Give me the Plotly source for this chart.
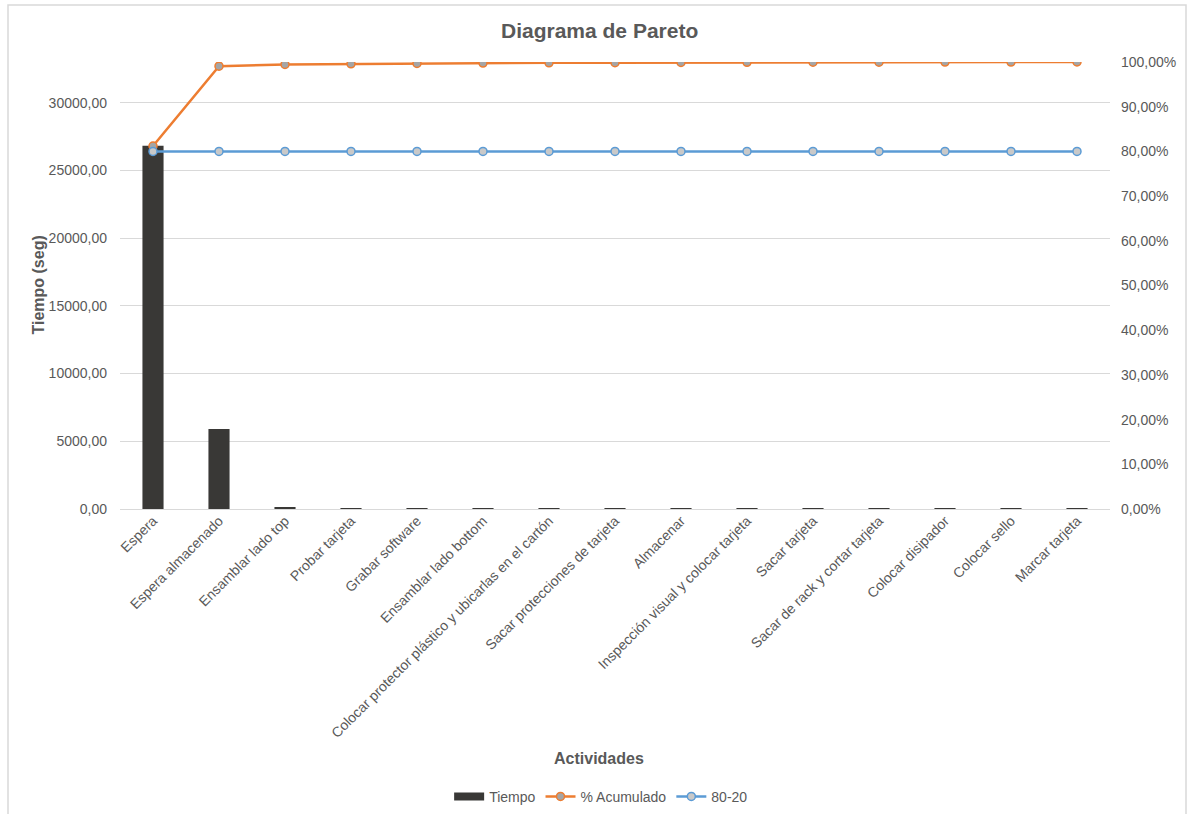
import plotly.graph_objects as go

# Activities and their time in seconds (sorted descending)
actividades = [
    "Espera",
    "Espera almacenado",
    "Ensamblar lado top",
    "Probar tarjeta",
    "Grabar software",
    "Ensamblar lado bottom",
    "Colocar protector plástico y ubicarlas en el cartón",
    "Sacar protecciones de tarjeta",
    "Almacenar",
    "Inspección visual y colocar tarjeta",
    "Sacar tarjeta",
    "Sacar de rack y cortar tarjeta",
    "Colocar disipador",
    "Colocar sello",
    "Marcar tarjeta",
]
tiempo = [26820, 5900, 130, 40, 30, 25, 20, 15, 12, 10, 8, 6, 5, 4, 3]
umbral = [0.80] * len(actividades)

total = sum(tiempo)
acumulado = []
running = 0
for t in tiempo:
    running += t
    acumulado.append(running / total)

GRAY_TXT = "#595959"
BAR_COLOR = "#393836"
FONT = "Liberation Sans, Arial, sans-serif"

fig = go.Figure()

fig.add_trace(go.Bar(
    x=actividades, y=tiempo, name="Tiempo",
    marker=dict(color=BAR_COLOR, line=dict(width=0)),
    yaxis="y", showlegend=False,
))
# legend key for the bars drawn as a wide block
fig.add_trace(go.Scatter(
    x=[None], y=[None], name="Tiempo", mode="lines",
    line=dict(color=BAR_COLOR, width=8),
))
fig.add_trace(go.Scatter(
    x=actividades, y=acumulado, name="% Acumulado",
    mode="lines+markers", yaxis="y2",
    line=dict(color="#ED7D31", width=2.5),
    marker=dict(size=8, color="#A5A5A5", line=dict(color="#ED7D31", width=1.5)),
))
fig.add_trace(go.Scatter(
    x=actividades, y=umbral, name="80-20",
    mode="lines+markers", yaxis="y2",
    line=dict(color="#5B9BD5", width=2.5),
    marker=dict(size=8, color="#C9C9C9", line=dict(color="#5B9BD5", width=1.5)),
))

fig.update_layout(
    width=1194, height=814,
    margin=dict(l=120, r=84, t=62, b=305, autoexpand=False),
    paper_bgcolor="white", plot_bgcolor="white",
    font=dict(family=FONT, size=14, color=GRAY_TXT),
    separators=",.",
    bargap=0.68,
    showlegend=True,
    legend=dict(
        orientation="h", x=0.486, xanchor="center", y=-0.644, yanchor="middle",
        font=dict(size=14, color=GRAY_TXT), itemwidth=30, tracegroupgap=0,
        bgcolor="rgba(0,0,0,0)",
    ),
    xaxis=dict(
        range=[-0.5, len(actividades) - 0.5], automargin=False,
        tickangle=-45, showgrid=False, showline=False, ticks="",
        tickfont=dict(size=14, color=GRAY_TXT),
    ),
    yaxis=dict(
        range=[0, 33000], tick0=0, dtick=5000, tickformat=".2f",
        showgrid=True, gridcolor="#D9D9D9", gridwidth=1,
        zeroline=True, zerolinecolor="#D9D9D9", zerolinewidth=1,
        showline=False, ticks="", ticklabelstandoff=12, automargin=False,
        tickfont=dict(size=14, color=GRAY_TXT),
    ),
    yaxis2=dict(
        range=[0, 1], tick0=0, dtick=0.1, tickformat=".2%",
        overlaying="y", side="right", showgrid=False, zeroline=False,
        showline=False, ticks="", ticklabelstandoff=10, automargin=False,
        tickfont=dict(size=14, color=GRAY_TXT),
    ),
    annotations=[
        dict(text="<b>Diagrama de Pareto</b>", xref="paper", yref="paper",
             x=0.484, y=(509 - 30) / 447, xanchor="center", yanchor="middle",
             showarrow=False, font=dict(size=21, color=GRAY_TXT, family=FONT)),
        dict(text="<b>Tiempo (seg)</b>", xref="paper", yref="paper",
             x=(38 - 120) / 990, y=0.5, xanchor="center", yanchor="middle",
             textangle=-90, showarrow=False,
             font=dict(size=16, color=GRAY_TXT, family=FONT)),
        dict(text="<b>Actividades</b>", xref="paper", yref="paper",
             x=0.484, y=(509 - 758) / 447, xanchor="center", yanchor="middle",
             showarrow=False, font=dict(size=16, color=GRAY_TXT, family=FONT)),
    ],
    shapes=[
        dict(type="rect", xref="paper", yref="paper",
             x0=(8 - 120) / 990, x1=(1186 - 120) / 990,
             y0=(509 - 816) / 447, y1=(509 - 5) / 447,
             line=dict(color="#D9D9D9", width=1.5), fillcolor="rgba(0,0,0,0)",
             layer="below"),
    ],
)

fig.write_html("out.html")
